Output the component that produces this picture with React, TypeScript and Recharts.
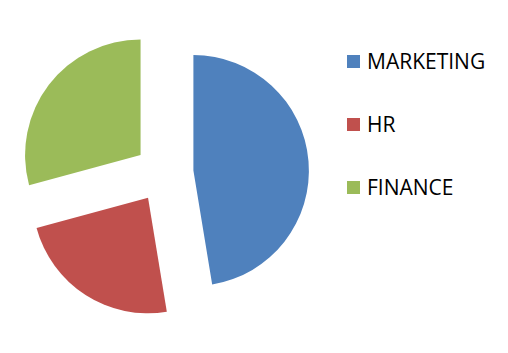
import React from "react";
import { PieChart, Pie, Cell, Sector, Legend } from "recharts";

const departments = ["MARKETING", "HR", "FINANCE"];
const shares = [47.4, 23.4, 29.2];
const colors = ["#4F81BD", "#C0504D", "#9BBB59"];

const data = departments.map((name, i) => ({ name, value: shares[i] }));

const RAD = Math.PI / 180;
const EXPLODE = 29.5;

// pulls each slice out along its middle angle
const ExplodedSector = (props: any) => {
  const { cx, cy, midAngle } = props;
  const dx = EXPLODE * Math.cos(-midAngle * RAD);
  const dy = EXPLODE * Math.sin(-midAngle * RAD);
  return <Sector {...props} cx={cx + dx} cy={cy + dy} stroke="none" />;
};

const LegendList = () => (
  <div style={{ fontFamily: "'Open Sans', sans-serif", fontSize: 21, color: "#000" }}>
    {departments.map((name, i) => (
      <div
        key={name}
        style={{ display: "flex", alignItems: "center", height: 20, marginBottom: 43 }}
      >
        <span
          style={{ width: 13, height: 13, background: colors[i], display: "inline-block", marginRight: 7 }}
        />
        <span style={{ lineHeight: "20px" }}>{name}</span>
      </div>
    ))}
  </div>
);

export default function App() {
  return (
    <div style={{ position: "absolute", left: 0, top: 0, width: 508, height: 353, background: "#fff" }}>
      <PieChart width={508} height={353} margin={{ top: 0, right: 0, bottom: 0, left: 0 }}>
        <Pie
          data={data}
          dataKey="value"
          nameKey="name"
          cx={164}
          cy={173}
          outerRadius={115.5}
          startAngle={90}
          endAngle={-270}
          stroke="none"
          isAnimationActive={false}
          shape={ExplodedSector}
          activeShape={ExplodedSector}
        >
          {data.map((entry, index) => (
            <Cell key={`cell-${index}`} fill={colors[index]} />
          ))}
        </Pie>
        <Legend
          content={<LegendList />}
          layout="vertical"
          wrapperStyle={{ left: 347, top: 51, width: 160 }}
        />
      </PieChart>
    </div>
  );
}
